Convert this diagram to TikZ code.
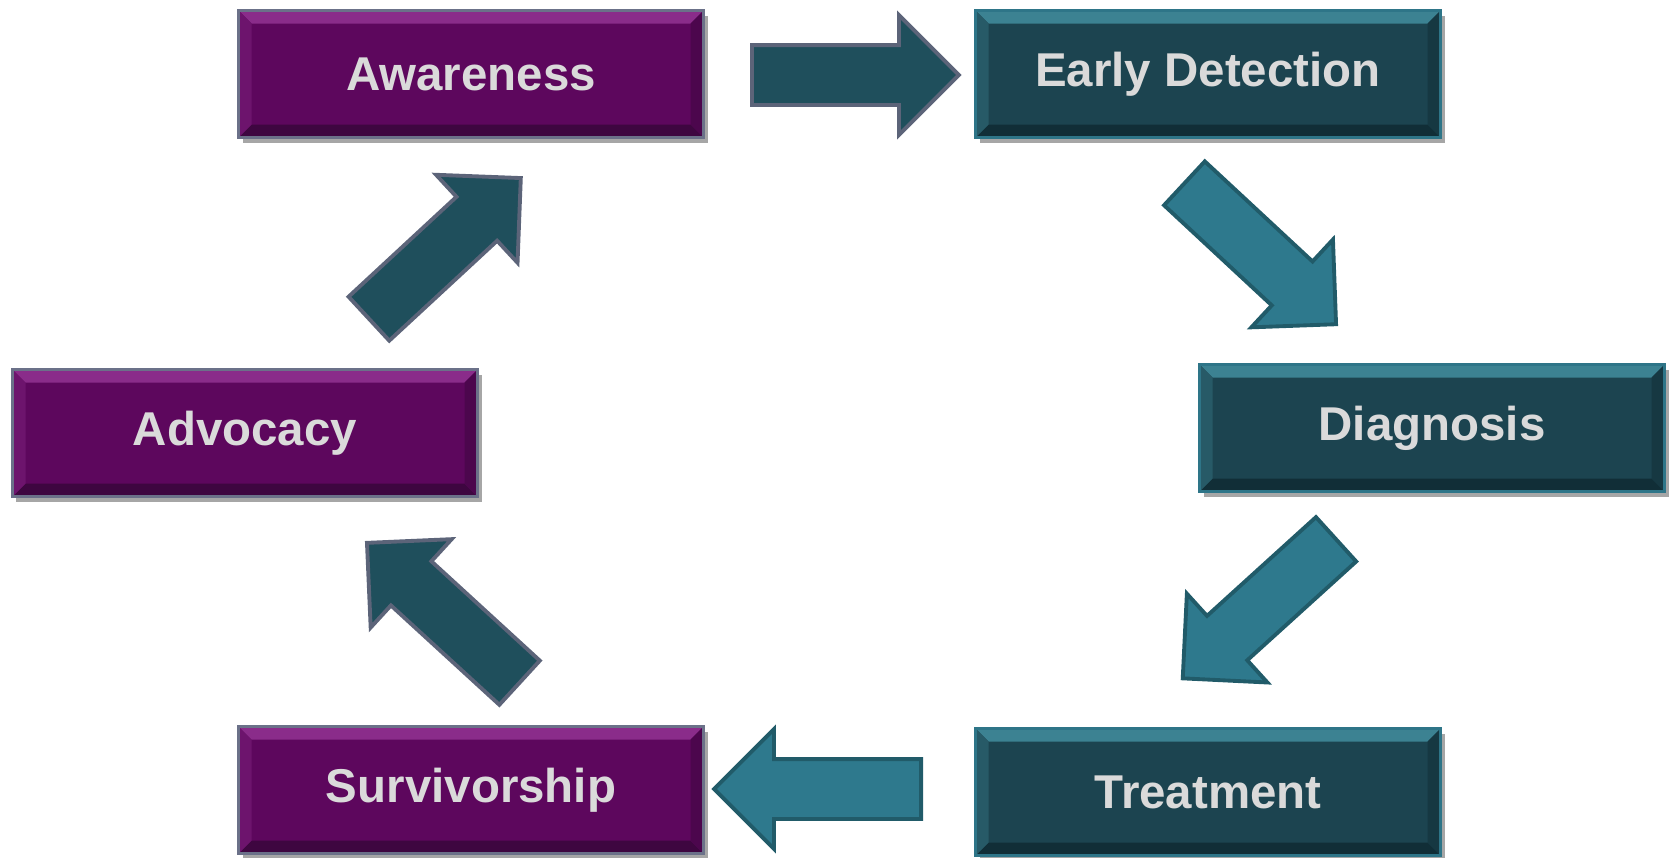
\documentclass[tikz,border=0pt]{standalone}
\usepackage{fontspec}
\setmainfont{Liberation Sans}
\usepackage{tikz}
\usetikzlibrary{shapes.arrows,shadows}
\definecolor{plumfill}{HTML}{5D075D}
\definecolor{plumlight}{HTML}{8A2C8A}
\definecolor{plumdark}{HTML}{3E0640}
\definecolor{plumedge}{HTML}{6B7189}
\definecolor{tealfill}{HTML}{1C4450}
\definecolor{teallight}{HTML}{3C8292}
\definecolor{tealdark}{HTML}{112E37}
\definecolor{tealedge}{HTML}{2E7588}
\definecolor{deeparrow}{HTML}{1F4F5C}
\definecolor{deepedge}{HTML}{5C6479}
\definecolor{palearrow}{HTML}{2E798D}
\definecolor{paleedge}{HTML}{215B69}
\definecolor{labelgray}{HTML}{DADADA}
\newcommand{\bevelsize}{0.13cm}
\newcommand{\BevelEdges}[3]{%
  \fill[#2] (path picture bounding box.north west) -- (path picture bounding box.north east)
    -- ([shift={(-\bevelsize,-\bevelsize)}]path picture bounding box.north east)
    -- ([shift={(\bevelsize,-\bevelsize)}]path picture bounding box.north west) -- cycle;
  \fill[#3] (path picture bounding box.south west) -- (path picture bounding box.south east)
    -- ([shift={(-\bevelsize,\bevelsize)}]path picture bounding box.south east)
    -- ([shift={(\bevelsize,\bevelsize)}]path picture bounding box.south west) -- cycle;
  \fill[#2!35!#1] (path picture bounding box.north west)
    -- ([shift={(\bevelsize,-\bevelsize)}]path picture bounding box.north west)
    -- ([shift={(\bevelsize,\bevelsize)}]path picture bounding box.south west)
    -- (path picture bounding box.south west) -- cycle;
  \fill[#3!55!#1] (path picture bounding box.north east)
    -- ([shift={(-\bevelsize,-\bevelsize)}]path picture bounding box.north east)
    -- ([shift={(-\bevelsize,\bevelsize)}]path picture bounding box.south east)
    -- (path picture bounding box.south east) -- cycle;
}
\tikzset{
  stepbox/.style={rectangle,minimum width=4.65cm,minimum height=1.27cm,line width=1pt,
    font=\bfseries\fontsize{13.5}{16}\selectfont,text=labelgray,
    drop shadow={shadow xshift=0.04cm,shadow yshift=-0.05cm,fill=black,opacity=.35}},
  plum step/.style={stepbox,fill=plumfill,draw=plumedge,
    path picture={\BevelEdges{plumfill}{plumlight}{plumdark}}},
  teal step/.style={stepbox,fill=tealfill,draw=tealedge,
    path picture={\BevelEdges{tealfill}{teallight}{tealdark}}},
  block arrow/.style={single arrow,single arrow tip angle=90,single arrow head extend=0.30cm,
    inner xsep=0pt,inner ysep=0.28cm,minimum height=2.07cm,line width=1.1pt,anchor=tail},
  deep arrow/.style={block arrow,fill=deeparrow,draw=deepedge},
  pale arrow/.style={block arrow,fill=palearrow,draw=paleedge}
}
\begin{document}
\begin{tikzpicture}[line join=miter]
  \useasboundingbox (0,0) rectangle (16.69,-8.57);

  % stages
  \node[plum step] (aware)  at ( 4.71,-0.74) {Awareness};
  \node[teal step] (early)  at (12.08,-0.74) {Early Detection};
  \node[teal step] (diag)   at (14.32,-4.28) {Diagnosis};
  \node[teal step] (treat)  at (12.08,-7.92) {Treatment};
  \node[plum step] (surviv) at ( 4.71,-7.90) {Survivorship};
  \node[plum step] (advoc)  at ( 2.45,-4.33) {Advocacy};

  % arrows between stages (placed at their tails)
  \node[deep arrow,rotate=0]      (a1) at ( 7.50,-0.75) {};
  \node[pale arrow,rotate=-42.9]  (a2) at (11.83,-1.82) {};
  \node[pale arrow,rotate=-137.8] (a3) at (13.375,-5.38) {};
  \node[pale arrow,rotate=180]    (a4) at ( 9.23,-7.89) {};
  \node[deep arrow,rotate=137.5]  (a5) at ( 5.21,-6.84) {};
  \node[deep arrow,rotate=42.8]   (a6) at ( 3.675,-3.20) {};
\end{tikzpicture}
\end{document}
